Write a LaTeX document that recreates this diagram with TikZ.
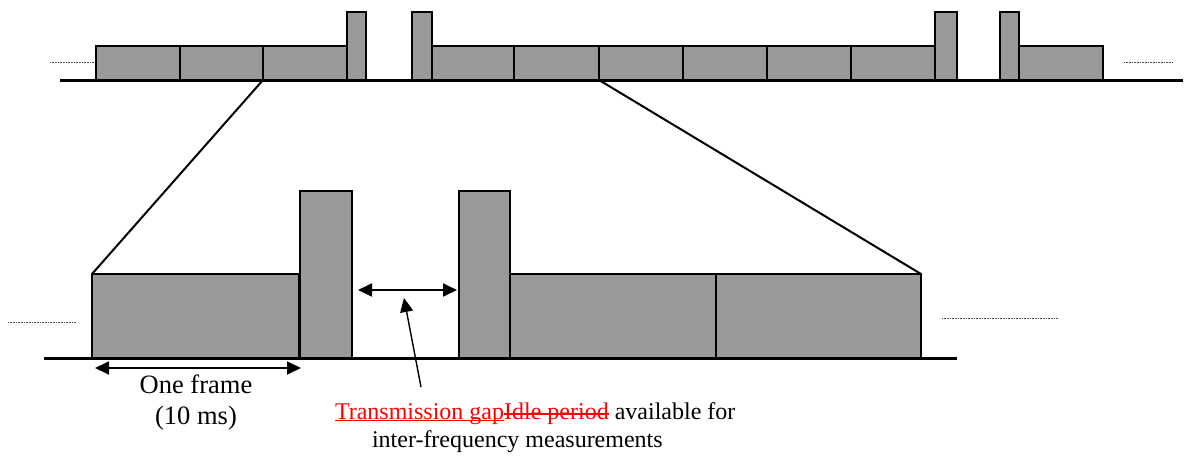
\documentclass[tikz,border=0pt]{standalone}
\usepackage{fontspec}
\setmainfont{Liberation Serif}
\usetikzlibrary{arrows.meta}
\begin{document}
\begin{tikzpicture}[x=1pt,y=-1pt,
  slot/.style={draw=black,line width=2pt,fill=black!40,inner sep=0pt,outer sep=0pt,anchor=south west},
  axis/.style={line width=3pt,black},
  zoomline/.style={line width=2pt,black},
  trail/.style={line width=0.6pt,densely dotted,black!70},
  span/.style={line width=1.8pt,{Triangle[length=14pt,width=13pt]}-{Triangle[length=14pt,width=13pt]}},
  pointer/.style={line width=1.4pt,-{Triangle[length=14pt,width=13pt]}},
  txt/.style={font=\fontsize{24}{28}\selectfont,inner sep=0pt,outer sep=0pt,anchor=base},
  bigtxt/.style={txt,font=\fontsize{26.5}{30}\selectfont},
  editline/.style={red,line width=1.4pt}]
\useasboundingbox (0,0) rectangle (1184,471);

% ---- upper time line ----
\coordinate (ua) at (60,80);
\coordinate (ub) at (1183,80);
\draw[axis] (ua) -- (ub);
\draw[trail] (50,62) coordinate (utl) -- (94,62) coordinate (utr);
\draw[trail] (1124,62) coordinate (url) -- (1173,62) coordinate (urr);

\node[slot,minimum width=84pt,minimum height=34pt] (a1) at (96,80) {};
\node[slot,minimum width=83pt,minimum height=34pt] (a2) at (180,80) {};
\node[slot,minimum width=84pt,minimum height=34pt] (a3) at (263,80) {};
\node[slot,minimum width=19pt,minimum height=68pt] (t1) at (347,80) {};
\node[slot,minimum width=20pt,minimum height=68pt] (t2) at (412,80) {};
\node[slot,minimum width=82pt,minimum height=34pt] (a4) at (432,80) {};
\node[slot,minimum width=85pt,minimum height=34pt] (a5) at (514,80) {};
\node[slot,minimum width=84pt,minimum height=34pt] (a6) at (599,80) {};
\node[slot,minimum width=84pt,minimum height=34pt] (a7) at (683,80) {};
\node[slot,minimum width=84pt,minimum height=34pt] (a8) at (767,80) {};
\node[slot,minimum width=84pt,minimum height=34pt] (a9) at (851,80) {};
\node[slot,minimum width=22pt,minimum height=68pt] (t3) at (935,80) {};
\node[slot,minimum width=19pt,minimum height=68pt] (t4) at (1000,80) {};
\node[slot,minimum width=84pt,minimum height=34pt] (a10) at (1019,80) {};

% ---- lower (expanded) time line ----
\coordinate (la) at (44,358);
\coordinate (lb) at (957,358);
\draw[axis] (la) -- (lb);
\draw[trail] (8,322) coordinate (ltl) -- (76,322) coordinate (ltr);
\draw[trail] (942,318) coordinate (lrl) -- (1058,318) coordinate (lrr);

\node[slot,minimum width=207pt,minimum height=84pt] (b1) at (92,358) {};
\node[slot,minimum width=52pt,minimum height=167pt] (bt1) at (300,358) {};
\node[slot,minimum width=51pt,minimum height=167pt] (bt2) at (459,358) {};
\node[slot,minimum width=206pt,minimum height=84pt] (b2) at (510,358) {};
\node[slot,minimum width=205pt,minimum height=84pt] (b3) at (716,358) {};

% ---- zoom lines ----
\draw[zoomline] (a3.south west) -- (b1.north west);
\draw[zoomline] (a6.south west) -- (b3.north east);

% ---- frame span ----
\coordinate (fs) at (95,368);
\coordinate (fe) at (301,368);
\draw[span] (fs) -- (fe);
\node[bigtxt] (f1) at (196,393) {One frame};
\node[bigtxt] (f2) at (196,424) {(10 ms)};

% ---- gap span ----
\coordinate (gs) at (358,290);
\coordinate (ge) at (457,290);
\draw[span] (gs) -- (ge);
\coordinate (pt) at (404,298);
\coordinate (pb) at (421,387);
\draw[pointer] (pb) -- (pt);

% ---- gap caption, with inserted (underlined) and deleted (struck) words ----
\node[txt,anchor=base west,red] (g1a) at (335,419) {Transmission gap};
\node[txt,anchor=base west,red] (g1b) at (g1a.base east) {Idle period};
\node[txt,anchor=base west] (g1c) at (g1b.base east) {\ available for};
\draw[editline] ([yshift=-1.5pt]g1a.base west) -- ([yshift=-1.5pt]g1a.base east);
\draw[editline] ([yshift=5pt]g1b.base west) -- ([yshift=5pt]g1b.base east);
\node[txt,anchor=base west] (g2) at (372,447) {inter-frequency measurements};
\end{tikzpicture}
\end{document}
